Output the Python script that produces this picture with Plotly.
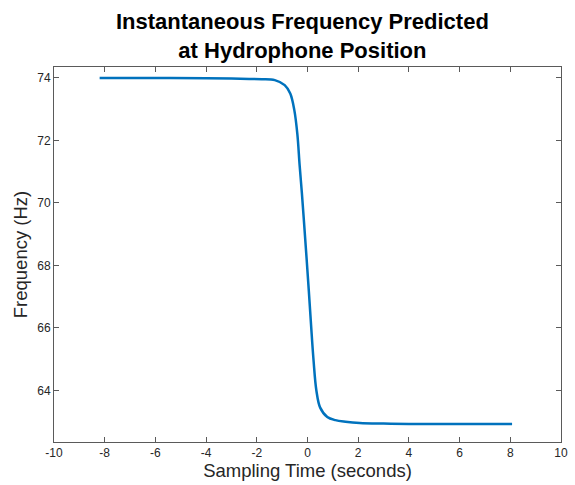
import plotly.graph_objects as go

# Data
time_s = [-8.2, -6, -4, -3, -2.3, -1.8, -1.29, -0.90, -0.68, -0.52, -0.40, -0.31, -0.22, -0.13,
          -0.04, 0.05, 0.14, 0.24, 0.35, 0.50, 0.78, 1.10, 1.50, 2.06, 3, 4, 6, 8.07]
freq_hz = [74.00, 74.00, 73.99, 73.98, 73.97, 73.96, 73.93, 73.77, 73.50, 72.97, 72.20, 71.20, 70.30, 69.30,
           68.27, 67.21, 66.10, 64.95, 64.00, 63.45, 63.15, 63.05, 63.00, 62.96, 62.94, 62.93, 62.93, 62.93]

x_ticks = [-10, -8, -6, -4, -2, 0, 2, 4, 6, 8, 10]
y_ticks = [64, 66, 68, 70, 72, 74]

FONT = "Liberation Sans, Arial, Helvetica, sans-serif"
AX = "#262626"

fig = go.Figure()
fig.add_trace(go.Scatter(
    x=time_s, y=freq_hz, mode="lines",
    line=dict(color="#0072BD", width=2.5, shape="spline", smoothing=1.0),
    showlegend=False, hoverinfo="skip",
))

axis_common = dict(
    showgrid=False, zeroline=False, showline=True, linecolor="#5a5a5a", linewidth=1,
    mirror="ticks", ticks="inside", ticklen=5, tickwidth=1, tickcolor="#5a5a5a",
    tickfont=dict(family=FONT, size=12, color=AX), automargin=False,
)

fig.update_layout(
    width=575, height=485,
    margin=dict(l=54, r=14, t=67, b=43),
    paper_bgcolor="white", plot_bgcolor="white",
    title=dict(
        text="<b>Instantaneous Frequency Predicted<br>at Hydrophone Position</b>",
        font=dict(family=FONT, size=22, color="black"),
        x=0.49, xanchor="center", xref="paper",
        y=1 - 29 / 485, yanchor="middle", yref="container",
    ),
    xaxis=dict(
        range=[-10, 10], tickvals=x_ticks, ticktext=[str(v) for v in x_ticks],
        title=dict(text="Sampling Time (seconds)", font=dict(family=FONT, size=18.5, color=AX), standoff=2),
        **axis_common,
    ),
    yaxis=dict(
        range=[62.35, 74.35], tickvals=y_ticks, ticktext=[str(v) for v in y_ticks],
        title=dict(text="Frequency (Hz)", font=dict(family=FONT, size=18.5, color=AX), standoff=4),
        **axis_common,
    ),
)

fig.write_html("out.html")
